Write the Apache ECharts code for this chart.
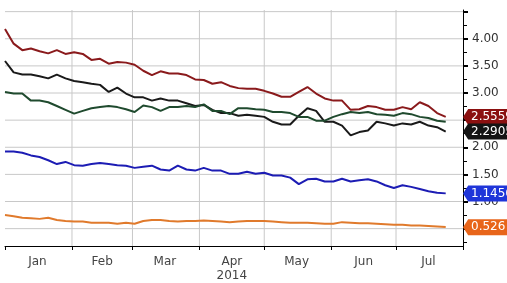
<!DOCTYPE html>
<html>
<head>
<meta charset="utf-8">
<script src="https://cdn.jsdelivr.net/npm/echarts@6/dist/echarts.min.js"></script>
<style>
  html, body { margin: 0; padding: 0; background: #fff; }
  #chart { width: 507px; height: 283px; }
</style>
</head>
<body>
<div id="chart"></div>
<script>
var dates = ['2014-01-01', '2014-01-05', '2014-01-09', '2014-01-13', '2014-01-17', '2014-01-21', '2014-01-25', '2014-01-29',
    '2014-02-02', '2014-02-06', '2014-02-10', '2014-02-14', '2014-02-18', '2014-02-22', '2014-02-26',
    '2014-03-02', '2014-03-06', '2014-03-10', '2014-03-14', '2014-03-18', '2014-03-22', '2014-03-26', '2014-03-30',
    '2014-04-03', '2014-04-07', '2014-04-11', '2014-04-15', '2014-04-19', '2014-04-23', '2014-04-27',
    '2014-05-01', '2014-05-05', '2014-05-09', '2014-05-13', '2014-05-17', '2014-05-21', '2014-05-25', '2014-05-29',
    '2014-06-02', '2014-06-06', '2014-06-10', '2014-06-14', '2014-06-18', '2014-06-22', '2014-06-26', '2014-06-30',
    '2014-07-04', '2014-07-08', '2014-07-12', '2014-07-16', '2014-07-20', '2014-07-24'];

var red = [4.18, 3.91, 3.79, 3.82, 3.77, 3.73, 3.79, 3.72, 3.75, 3.72,
    3.61, 3.63, 3.54, 3.57, 3.56, 3.52, 3.41, 3.33, 3.40, 3.36,
    3.36, 3.33, 3.25, 3.24, 3.17, 3.20, 3.13, 3.09, 3.08, 3.08,
    3.04, 2.99, 2.93, 2.93, 3.02, 3.11, 2.99, 2.90, 2.86, 2.86,
    2.69, 2.70, 2.76, 2.74, 2.69, 2.69, 2.74, 2.70, 2.83, 2.76,
    2.63, 2.56];
var black = [3.59, 3.38, 3.34, 3.34, 3.31, 3.27, 3.34, 3.27, 3.22, 3.20,
    3.17, 3.15, 3.02, 3.10, 2.99, 2.92, 2.92, 2.86, 2.90, 2.86,
    2.86, 2.81, 2.76, 2.78, 2.69, 2.63, 2.63, 2.58, 2.60, 2.58,
    2.56, 2.47, 2.42, 2.42, 2.58, 2.72, 2.67, 2.47, 2.47, 2.40,
    2.22, 2.28, 2.31, 2.47, 2.44, 2.40, 2.44, 2.42, 2.47, 2.40,
    2.37, 2.29];
var green = [3.02, 2.99, 2.99, 2.86, 2.86, 2.83, 2.76, 2.69, 2.62, 2.67,
    2.72, 2.74, 2.76, 2.74, 2.70, 2.65, 2.77, 2.74, 2.67, 2.74,
    2.74, 2.76, 2.74, 2.79, 2.67, 2.67, 2.61, 2.72, 2.72, 2.70,
    2.69, 2.65, 2.65, 2.63, 2.56, 2.56, 2.49, 2.49, 2.56, 2.61,
    2.65, 2.63, 2.65, 2.61, 2.60, 2.58, 2.63, 2.61, 2.56, 2.54,
    2.49, 2.47];
var blue = [1.92, 1.92, 1.90, 1.85, 1.82, 1.76, 1.69, 1.73, 1.67, 1.66,
    1.69, 1.71, 1.69, 1.67, 1.66, 1.62, 1.64, 1.66, 1.59, 1.57,
    1.66, 1.59, 1.57, 1.62, 1.57, 1.57, 1.51, 1.51, 1.55, 1.51,
    1.53, 1.48, 1.48, 1.44, 1.32, 1.41, 1.42, 1.37, 1.37, 1.42,
    1.37, 1.39, 1.41, 1.37, 1.30, 1.25, 1.30, 1.27, 1.23, 1.19,
    1.16, 1.15];
var orange = [0.75, 0.73, 0.70, 0.69, 0.68, 0.70, 0.66, 0.64, 0.63, 0.63,
    0.61, 0.61, 0.61, 0.59, 0.61, 0.59, 0.64, 0.66, 0.66, 0.64,
    0.63, 0.64, 0.64, 0.65, 0.64, 0.63, 0.62, 0.63, 0.64, 0.64,
    0.64, 0.63, 0.62, 0.61, 0.61, 0.61, 0.60, 0.59, 0.59, 0.62,
    0.61, 0.60, 0.60, 0.59, 0.58, 0.57, 0.57, 0.56, 0.56, 0.55,
    0.54, 0.53];

// last-value tags shown on the right axis
var lastValues = ['2.5559', '2.2905', null, '1.1456', '0.526'];

var monthStarts = ['2014-01-01', '2014-02-01', '2014-03-01', '2014-04-01', '2014-05-01', '2014-06-01', '2014-07-01', '2014-08-01'];
var monthMids = ['2014-01-16', '2014-02-15', '2014-03-16', '2014-04-16', '2014-05-16', '2014-06-16', '2014-07-16'];
var monthNames = ['Jan', 'Feb', 'Mar', 'Apr', 'May', 'Jun', 'Jul', 'Aug'];
var yMajor = [0.5, 1, 1.5, 2, 2.5, 3, 3.5, 4, 4.5];
var yLabels = [0.5, 1, 1.5, 2, 2.5, 3, 3.5, 4];
var yMinor = [0.25, 0.75, 1.25, 1.75, 2.25, 2.75, 3.25, 3.75, 4.25];

var font = 'DejaVu Sans, Verdana, sans-serif';
var colors = ['#8a1a1c', '#1a1a1a', '#1f4a2e', '#1c1cb4', '#e07a2c'];
var tagColors = ['#8b1010', '#141414', '#1f4a2e', '#1f35d9', '#e8651a'];
var seriesData = [red, black, green, blue, orange];

// dates -> ms, used on a value axis
function t(d) { return new Date(d + 'T00:00:00').getTime(); }

var chart = echarts.init(document.getElementById('chart'));

var series = seriesData.map(function (vals, i) {
    var s = {
        type: 'line',
        data: dates.map(function (d, j) { return [t(d), vals[j]]; }),
        showSymbol: false,
        clip: false,
        lineStyle: { color: colors[i], width: 2 },
        z: 3 + i
    };
    if (lastValues[i]) {
        s.markPoint = {
            silent: true,
            animation: false,
            symbol: 'path://M0,6 L6,0 L60,0 L60,12 L6,12 Z',
            symbolSize: [52, 16],
            symbolOffset: [26, 0],
            symbolKeepAspect: false,
            itemStyle: { color: tagColors[i] },
            label: {
                show: true,
                position: 'insideLeft',
                distance: 8,
                color: '#fff',
                fontFamily: font,
                fontSize: 12,
                formatter: lastValues[i]
            },
            data: [{ coord: [t('2014-08-01'), parseFloat(lastValues[i])] }]
        };
    }
    return s;
});

// grid lines: one helper series per line, drawn from the axis values
var gridLine = { color: '#c8c8c8', width: 1, type: 'solid' };
var yGrid = yMajor.map(function (v) {
    return {
        type: 'line', silent: true, showSymbol: false, z: 1,
        lineStyle: gridLine,
        data: [[t('2014-01-01'), v], [t('2014-08-01'), v]]
    };
});
var xGrid = monthStarts.slice(1, 7).map(function (d) {
    return {
        type: 'line', silent: true, showSymbol: false, z: 1,
        lineStyle: gridLine,
        data: [[t(d), 0.18], [t(d), 4.53]]
    };
});

var option = {
    animation: false,
    backgroundColor: '#fff',
    grid: { left: 5, right: 44, top: 10, bottom: 28 },
    xAxis: {
        type: 'value',
        min: t('2014-01-01'),
        max: t('2014-08-01'),
        axisLine: { show: true, lineStyle: { color: '#000', width: 1 } },
        axisTick: { show: true, customValues: monthStarts.map(t), length: 4, lineStyle: { color: '#000' } },
        splitLine: { show: false },
        axisLabel: {
            customValues: monthMids.map(t),
            color: '#444',
            fontFamily: font,
            fontSize: 12,
            lineHeight: 14,
            margin: 9,
            formatter: function (val) {
                var m = new Date(val).getMonth();
                return m === 3 ? monthNames[m] + '\n2014' : monthNames[m];
            }
        }
    },
    yAxis: [{
        type: 'value',
        position: 'right',
        min: 0.18,
        max: 4.53,
        axisLine: { show: true, lineStyle: { color: '#000', width: 1 } },
        axisTick: { show: true, customValues: yMajor, length: 5, lineStyle: { color: '#000', width: 2 } },
        splitLine: { show: false },
        axisLabel: {
            customValues: yLabels,
            color: '#333',
            fontFamily: font,
            fontSize: 12,
            margin: 9,
            formatter: function (v) { return v.toFixed(2); }
        }
    }, {
        type: 'value',
        position: 'right',
        min: 0.18,
        max: 4.53,
        axisLine: { show: false },
        axisTick: { show: true, customValues: yMinor, length: 4, lineStyle: { color: '#000', width: 1 } },
        splitLine: { show: false },
        axisLabel: { show: false }
    }],
    series: yGrid.concat(xGrid, series)
};

chart.setOption(option);
</script>
</body>
</html>
